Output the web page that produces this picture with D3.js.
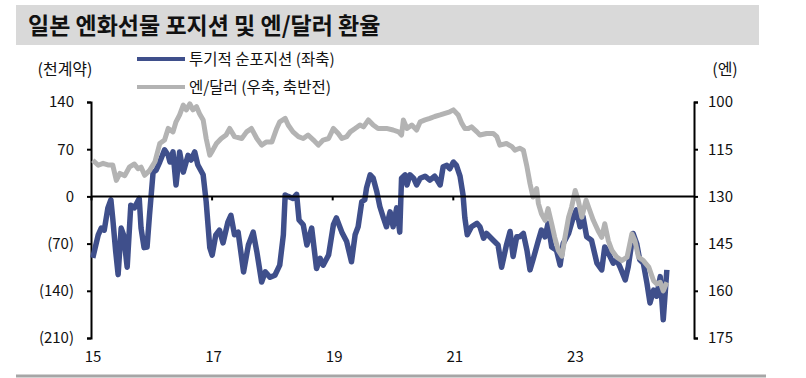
<!DOCTYPE html>
<html>
<head>
<meta charset="utf-8">
<script src="https://cdn.jsdelivr.net/npm/d3@7"></script>
<style>
  html, body { margin: 0; padding: 0; background: #fff; }
  #chart { width: 806px; height: 378px; }
  text { font-family: "Noto Sans CJK KR", "Noto Sans", sans-serif; fill: #111; }
</style>
</head>
<body>
<div id="chart"></div>
<script>
// ── data (dates as decimal years) ─────────────────────────────────────────────
const posDates = [
  2015.03, 2015.12, 2015.17, 2015.22, 2015.28, 2015.33, 2015.36, 2015.41, 2015.45, 2015.50,
  2015.54, 2015.60, 2015.66, 2015.72, 2015.80, 2015.83, 2015.88, 2015.93, 2015.97, 2016.03,
  2016.08, 2016.14, 2016.22, 2016.28, 2016.31, 2016.36, 2016.41, 2016.47, 2016.53, 2016.61,
  2016.66, 2016.72, 2016.77, 2016.86, 2016.91, 2016.97, 2017.01, 2017.07, 2017.13, 2017.19,
  2017.27, 2017.32, 2017.38, 2017.44, 2017.53, 2017.61, 2017.69, 2017.75, 2017.83, 2017.89,
  2017.97, 2018.05, 2018.13, 2018.19, 2018.22, 2018.27, 2018.35, 2018.41, 2018.45, 2018.52,
  2018.58, 2018.66, 2018.74, 2018.80, 2018.85, 2018.94, 2019.02, 2019.07, 2019.16, 2019.24,
  2019.32, 2019.38, 2019.43, 2019.49, 2019.54, 2019.57, 2019.63, 2019.68, 2019.74, 2019.79,
  2019.85, 2019.90, 2019.96, 2020.01, 2020.07, 2020.12, 2020.15, 2020.21, 2020.24, 2020.29,
  2020.35, 2020.40, 2020.46, 2020.54, 2020.62, 2020.70, 2020.79, 2020.84, 2020.90, 2020.95,
  2021.01, 2021.06, 2021.12, 2021.17, 2021.20, 2021.24, 2021.31, 2021.40, 2021.45, 2021.51,
  2021.56, 2021.67, 2021.75, 2021.81, 2021.89, 2021.95, 2022.00, 2022.06, 2022.11, 2022.17,
  2022.23, 2022.28, 2022.33, 2022.42, 2022.47, 2022.53, 2022.58, 2022.64, 2022.72, 2022.78,
  2022.83, 2022.92, 2023.00, 2023.05, 2023.11, 2023.16, 2023.22, 2023.30, 2023.39, 2023.47,
  2023.52, 2023.58, 2023.66, 2023.72, 2023.77, 2023.86, 2023.91, 2023.99, 2024.05, 2024.10,
  2024.16, 2024.22, 2024.27, 2024.33, 2024.38, 2024.44, 2024.49, 2024.55
];
// 투기적 순포지션 (천계약)
const posValues = [
  -91, -57, -47, -50, -17, -5, -32, -82, -116, -47,
  -57, -105, -13, -17, -3, -47, -76, -75, -28, 36,
  39, 51, 69, 61, 51, 66, 17, 66, 36, 61,
  54, 66, 47, 32, -8, -76, -87, -57, -50, -69,
  -38, -28, -57, -53, -112, -72, -53, -82, -127, -112,
  -120, -117, -102, -57, 2, 0, -3, 3, -35, -42,
  -72, -47, -107, -92, -102, -87, -42, -32, -53, -67,
  -97, -57, -45, -8, -5, 13, 32, 27, 7, -15,
  -32, -45, -23, -45, -17, -53, 27, 32, 17, 32,
  27, 17, 27, 30, 24, 30, 17, 44, 46, 41,
  51, 46, 30, 2, -32, -57, -45, -40, -45, -62,
  -55, -65, -72, -105, -72, -52, -89, -60, -60, -55,
  -80, -109, -94, -65, -50, -60, -40, -75, -80, -102,
  -70, -55, -30, -20, -45, -30, -60, -65, -99, -109,
  -75, -84, -99, -94, -104, -124, -104, -55, -70, -94,
  -99, -129, -158, -139, -148, -119, -183, -109
];

const fxDates = [
  2015.03, 2015.12, 2015.20, 2015.28, 2015.36, 2015.42, 2015.48, 2015.56, 2015.64, 2015.72,
  2015.78, 2015.83, 2015.89, 2015.97, 2016.06, 2016.14, 2016.22, 2016.28, 2016.36, 2016.41,
  2016.47, 2016.53, 2016.58, 2016.64, 2016.69, 2016.75, 2016.80, 2016.86, 2016.91, 2016.97,
  2017.02, 2017.08, 2017.16, 2017.24, 2017.30, 2017.38, 2017.50, 2017.58, 2017.66, 2017.75,
  2017.83, 2017.91, 2018.00, 2018.08, 2018.13, 2018.22, 2018.27, 2018.35, 2018.44, 2018.52,
  2018.60, 2018.69, 2018.77, 2018.85, 2018.94, 2019.02, 2019.10, 2019.16, 2019.24, 2019.30,
  2019.38, 2019.46, 2019.52, 2019.60, 2019.68, 2019.76, 2019.90, 2020.01, 2020.10, 2020.15,
  2020.18, 2020.24, 2020.32, 2020.40, 2020.46, 2020.54, 2020.62, 2020.70, 2020.79, 2020.87,
  2020.95, 2021.01, 2021.09, 2021.15, 2021.20, 2021.26, 2021.31, 2021.40, 2021.45, 2021.56,
  2021.67, 2021.73, 2021.78, 2021.89, 2021.98, 2022.03, 2022.11, 2022.17, 2022.23, 2022.28,
  2022.33, 2022.39, 2022.42, 2022.47, 2022.53, 2022.58, 2022.64, 2022.69, 2022.75, 2022.81,
  2022.86, 2022.92, 2022.97, 2023.03, 2023.08, 2023.14, 2023.21, 2023.27, 2023.33, 2023.41,
  2023.47, 2023.52, 2023.58, 2023.64, 2023.72, 2023.80, 2023.89, 2023.97, 2024.02, 2024.08,
  2024.16, 2024.25, 2024.33, 2024.38, 2024.44, 2024.49, 2024.55
];
// 엔/달러 (엔)
const fxValues = [
  118.5, 120.1, 119.5, 120.0, 120.0, 124.9, 122.7, 123.4, 120.6, 119.7,
  121.2, 120.7, 123.3, 121.8, 119.0, 113.2, 112.1, 108.4, 109.5, 106.3,
  104.1, 101.0, 102.5, 100.6, 102.5, 101.5, 103.7, 105.7, 111.6, 116.9,
  115.3, 113.2, 111.6, 110.5, 108.4, 111.0, 111.6, 109.5, 108.4, 111.6,
  113.7, 112.7, 112.7, 108.4, 106.3, 105.2, 107.3, 109.5, 111.0, 111.6,
  110.5, 112.1, 113.7, 112.1, 111.6, 108.4, 110.0, 111.6, 111.0, 109.5,
  108.4, 107.3, 107.9, 105.7, 107.3, 108.4, 108.4, 108.9, 109.5, 110.5,
  105.7, 108.4, 107.3, 108.9, 106.3, 105.7, 105.2, 104.6, 104.1, 103.6,
  103.1, 102.5, 104.1, 106.8, 108.4, 108.4, 107.9, 109.5, 110.5, 110.0,
  110.0, 111.0, 113.7, 113.2, 114.2, 115.3, 114.7, 115.3, 120.6, 125.9,
  130.2, 127.5, 132.3, 135.5, 137.6, 133.9, 138.7, 143.0, 147.2, 149.0,
  143.0, 136.6, 133.4, 128.1, 131.2, 136.6, 131.2, 134.4, 137.6, 140.9,
  143.0, 138.7, 144.1, 147.2, 149.3, 150.4, 149.3, 141.9, 144.1, 149.3,
  150.4, 152.5, 156.8, 157.8, 157.3, 160.0, 157.3
];

const xTicks     = [2015, 2017, 2019, 2021, 2023];
const leftTicks  = [140, 70, 0, -70, -140, -210];
const rightTicks = [100, 115, 130, 145, 160, 175];

const posColor = '#3f4f8b';
const fxColor  = '#b3b3b3';

// ── layout ────────────────────────────────────────────────────────────────────
const plot = { left: 91, right: 694, top: 102, bottom: 338 };

const xScale = d3.scaleLinear().domain([2015, 2025]).range([plot.left, plot.left + 603]);
const yLeft  = d3.scaleLinear().domain([-210, 140]).range([plot.bottom, plot.top]);
const yRight = d3.scaleLinear().domain([100, 175]).range([plot.top, plot.bottom]); // inverted

const svg = d3.select('#chart')
  .append('svg')
    .attr('width', 806)
    .attr('height', 378);

// ── title band ────────────────────────────────────────────────────────────────
svg.append('rect')
  .attr('x', 16).attr('y', 5)
  .attr('width', 743).attr('height', 40)
  .attr('fill', '#d9d9d9');

svg.append('text')
  .attr('x', 28).attr('y', 34)
  .attr('font-size', 23)
  .attr('font-weight', 'bold')
  .text('일본 엔화선물 포지션 및 엔/달러 환율');

// bottom rule
svg.append('line')
  .attr('x1', 16).attr('x2', 766)
  .attr('y1', 376).attr('y2', 376)
  .attr('stroke', '#a6a6a6')
  .attr('stroke-width', 3);

// ── unit labels ───────────────────────────────────────────────────────────────
svg.append('text')
  .attr('x', 65).attr('y', 75)
  .attr('text-anchor', 'middle')
  .attr('font-size', 16)
  .text('(천계약)');

svg.append('text')
  .attr('x', 725).attr('y', 75)
  .attr('text-anchor', 'middle')
  .attr('font-size', 16)
  .text('(엔)');

// ── axes ──────────────────────────────────────────────────────────────────────
const fmtLeft = d => d < 0 ? `(${-d})` : `${d}`;

svg.append('g')
  .attr('transform', `translate(${plot.left},0)`)
  .call(d3.axisLeft(yLeft).tickValues(leftTicks).tickFormat(fmtLeft).tickSize(4).tickSizeOuter(4).tickPadding(13))
  .call(g => g.select('.domain').attr('stroke', '#000').attr('stroke-width', 2))
  .call(g => g.selectAll('.tick line').attr('stroke', '#000').attr('stroke-width', 2))
  .call(g => g.selectAll('.tick text').attr('font-size', 15).attr('font-family', '"Noto Sans CJK KR", sans-serif').attr('fill', '#111'));

svg.append('g')
  .attr('transform', `translate(${plot.right},0)`)
  .call(d3.axisRight(yRight).tickValues(rightTicks).tickSize(4).tickSizeOuter(4).tickPadding(10))
  .call(g => g.select('.domain').attr('stroke', '#000').attr('stroke-width', 2))
  .call(g => g.selectAll('.tick line').attr('stroke', '#000').attr('stroke-width', 2))
  .call(g => g.selectAll('.tick text').attr('font-size', 15).attr('font-family', '"Noto Sans CJK KR", sans-serif').attr('fill', '#111'));

// x ticks hang from the zero line, labels sit under the plot
svg.append('g')
  .attr('transform', `translate(0,${yLeft(0)})`)
  .call(d3.axisBottom(xScale).tickValues(xTicks).tickSize(4).tickFormat(''))
  .call(g => g.select('.domain').remove())
  .call(g => g.selectAll('.tick line').attr('stroke', '#000').attr('stroke-width', 2));

svg.append('g')
  .selectAll('text')
  .data(xTicks)
  .join('text')
    .attr('x', d => xScale(d) + 2)
    .attr('y', 362)
    .attr('text-anchor', 'middle')
    .attr('font-size', 15)
    .text(d => String(d).slice(2));

// ── lines (secondary-axis series drawn on top) ────────────────────────────────
const fxLine = d3.line()
  .x(i => xScale(fxDates[i]))
  .y(i => yRight(fxValues[i]));

const posLine = d3.line()
  .x(i => xScale(posDates[i]))
  .y(i => yLeft(posValues[i]));

svg.append('path')
  .attr('d', posLine(d3.range(posDates.length)))
  .attr('fill', 'none')
  .attr('stroke', posColor)
  .attr('stroke-width', 5.5)
  .attr('stroke-linejoin', 'round');

svg.append('path')
  .attr('d', fxLine(d3.range(fxDates.length)))
  .attr('fill', 'none')
  .attr('stroke', fxColor)
  .attr('stroke-width', 5)
  .attr('stroke-linejoin', 'round');

// zero line drawn over both series
svg.append('line')
  .attr('x1', plot.left).attr('x2', plot.right)
  .attr('y1', yLeft(0)).attr('y2', yLeft(0))
  .attr('stroke', '#000')
  .attr('stroke-width', 2);

// ── legend ────────────────────────────────────────────────────────────────────
const legendItems = [
  { label: '투기적 순포지션 (좌축)', color: posColor, y: 59 },
  { label: '엔/달러 (우축, 축반전)', color: fxColor, y: 87 }
];

const legend = svg.append('g').selectAll('g')
  .data(legendItems)
  .join('g')
    .attr('transform', d => `translate(137,${d.y})`);

legend.append('line')
  .attr('x1', 0).attr('x2', 48)
  .attr('stroke', d => d.color)
  .attr('stroke-width', 4);

legend.append('text')
  .attr('x', 52).attr('y', 5.5)
  .attr('font-size', 15.5)
  .text(d => d.label);
</script>
</body>
</html>
